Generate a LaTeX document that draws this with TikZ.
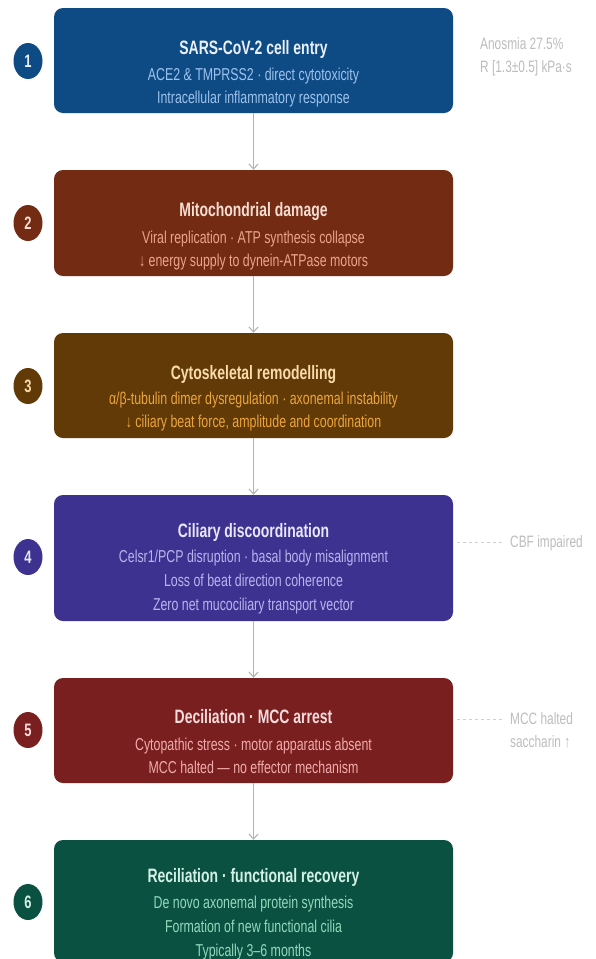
\documentclass[tikz,border=0pt]{standalone}
\usepackage{fontspec}
\setmainfont{Liberation Sans}[FakeStretch=0.72]
\usetikzlibrary{arrows.meta,shapes.geometric}
\definecolor{fillA}{HTML}{0E4A84}\definecolor{ttlA}{HTML}{EAF0F8}\definecolor{subA}{HTML}{9DC3EC}
\definecolor{fillB}{HTML}{732B13}\definecolor{ttlB}{HTML}{F6DDD2}\definecolor{subB}{HTML}{EAA58A}
\definecolor{fillC}{HTML}{623A07}\definecolor{ttlC}{HTML}{F7DCAA}\definecolor{subC}{HTML}{EBA53E}
\definecolor{fillD}{HTML}{3D3290}\definecolor{ttlD}{HTML}{E8E6FA}\definecolor{subD}{HTML}{B9B4EE}
\definecolor{fillE}{HTML}{7A1F1F}\definecolor{ttlE}{HTML}{F7DCDC}\definecolor{subE}{HTML}{F0ACAC}
\definecolor{fillF}{HTML}{0B5142}\definecolor{ttlF}{HTML}{D2F0E4}\definecolor{subF}{HTML}{93D8BA}
\definecolor{sidegray}{HTML}{BDBDBD}
\definecolor{leadgray}{HTML}{CFCFCF}
\definecolor{arrgray}{HTML}{B3B3B3}
\begin{document}
\begin{tikzpicture}[x=1pt,y=-1pt,
  stagebox/.style={rectangle, rounded corners=9pt, minimum width=399pt, inner sep=0pt, draw=none},
  numdot/.style={ellipse, minimum width=29pt, minimum height=36pt, inner sep=0pt, draw=none,
     font=\bfseries\fontsize{18}{18}\selectfont},
  ttl/.style={font=\bfseries\fontsize{19.4}{22}\selectfont, text height=13.8pt, text depth=0pt, inner sep=0pt},
  sub/.style={font=\fontsize{17.2}{20}\selectfont, text height=12.3pt, text depth=0pt, inner sep=0pt},
  side/.style={font=\fontsize{16.5}{20}\selectfont, text=sidegray, anchor=west, text height=11.8pt, text depth=0pt, inner sep=0pt},
  flow/.style={draw=arrgray, line width=1.1pt, -{Straight Barb[length=5pt,width=9pt]}},
  leader/.style={draw=leadgray, line width=0.9pt, dash pattern=on 3pt off 3pt}]
\useasboundingbox (0,0) rectangle (595,959);
\fill[white] (0,0) rectangle (595,959);

% boxes
\node[stagebox, fill=fillA, minimum height=105pt] (b1) at (253.5,60.5) {};
\node[stagebox, fill=fillB, minimum height=106pt] (b2) at (253.5,223) {};
\node[stagebox, fill=fillC, minimum height=105pt] (b3) at (253.5,385.5) {};
\node[stagebox, fill=fillD, minimum height=126pt] (b4) at (253.5,558) {};
\node[stagebox, fill=fillE, minimum height=105pt] (b5) at (253.5,730.5) {};
\node[stagebox, fill=fillF, minimum height=122pt] (b6) at (253.5,901) {};

% numbers
\node[numdot, fill=fillA, text=ttlA] (n1) at (28,61) {1};
\node[numdot, fill=fillB, text=ttlB] (n2) at (28,223) {2};
\node[numdot, fill=fillC, text=ttlC] (n3) at (28,386) {3};
\node[numdot, fill=fillD, text=ttlD] (n4) at (28,557) {4};
\node[numdot, fill=fillE, text=ttlE] (n5) at (28,730) {5};
\node[numdot, fill=fillF, text=ttlF] (n6) at (28,902) {6};

% texts box 1
\node[ttl, text=ttlA] (t1) at (253.5,48) {SARS-CoV-2 cell entry};
\node[sub, text=subA] (s1a) at (253.5,74) {ACE2 \& TMPRSS2 · direct cytotoxicity};
\node[sub, text=subA] (s1b) at (253.5,97) {Intracellular inflammatory response};
% box 2
\node[ttl, text=ttlB] (t2) at (253.5,210) {Mitochondrial damage};
\node[sub, text=subB] (s2a) at (253.5,237) {Viral replication · ATP synthesis collapse};
\node[sub, text=subB] (s2b) at (253.5,260) {↓ energy supply to dynein-ATPase motors};
% box 3
\node[ttl, text=ttlC] (t3) at (253.5,373) {Cytoskeletal remodelling};
\node[sub, text=subC] (s3a) at (253.5,398) {α/β-tubulin dimer dysregulation · axonemal instability};
\node[sub, text=subC] (s3b) at (253.5,421) {↓ ciliary beat force, amplitude and coordination};
% box 4
\node[ttl, text=ttlD] (t4) at (253.5,531) {Ciliary discoordination};
\node[sub, text=subD] (s4a) at (253.5,556) {Celsr1/PCP disruption · basal body misalignment};
\node[sub, text=subD] (s4b) at (253.5,580) {Loss of beat direction coherence};
\node[sub, text=subD] (s4c) at (253.5,604) {Zero net mucociliary transport vector};
% box 5
\node[ttl, text=ttlE] (t5) at (253.5,717) {Deciliation · MCC arrest};
\node[sub, text=subE] (s5a) at (253.5,744) {Cytopathic stress · motor apparatus absent};
\node[sub, text=subE] (s5b) at (253.5,767) {MCC halted — no effector mechanism};
% box 6
\node[ttl, text=ttlF] (t6) at (253.5,876) {Reciliation · functional recovery};
\node[sub, text=subF] (s6a) at (253.5,902) {De novo axonemal protein synthesis};
\node[sub, text=subF] (s6b) at (253.5,926) {Formation of new functional cilia};
\node[sub, text=subF] (s6c) at (253.5,950) {Typically 3–6 months};

% side labels
\node[side] (an) at (480,44) {Anosmia 27.5\%};
\node[side] (rv) at (480,67) {R [1.3±0.5] kPa·s};
\node[side] (cbf) at (510,542) {CBF impaired};
\node[side] (mcc) at (510,719) {MCC halted};
\node[side] (sac) at (510,742) {saccharin ↑};

% connectors
\draw[flow] (b1.south) -- (b2.north);
\draw[flow] (b2.south) -- (b3.north);
\draw[flow] (b3.south) -- (b4.north);
\draw[flow] (b4.south) -- (b5.north);
\draw[flow] (b5.south) -- (b6.north);
\draw[leader] ([xshift=4pt]b4.east |- cbf.west) -- ([xshift=-8pt]cbf.west);
\draw[leader] ([xshift=4pt]b5.east |- mcc.west) -- ([xshift=-8pt]mcc.west);
\end{tikzpicture}
\end{document}
